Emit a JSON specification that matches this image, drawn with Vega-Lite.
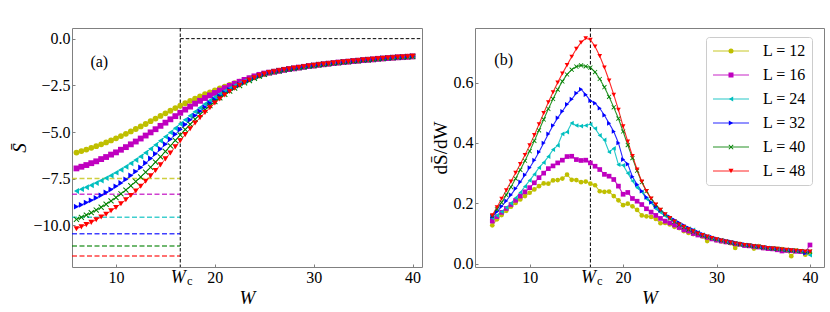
{
"$schema":"https://vega.github.io/schema/vega-lite/v6.json",
"autosize":{"type":"none"},
"padding":{"left":72,"top":28,"right":758,"bottom":284},
"background":"white",
"config":{
 "font":"Liberation Serif",
 "view":{"stroke":"#808080","strokeWidth":1},
 "axis":{"domain":false,"grid":false,"tickColor":"#808080","tickSize":-3,"labelFont":"Liberation Serif","labelFontSize":16,"labelColor":"#000","titleFont":"Liberation Serif","titleFontSize":19,"titleFontWeight":"normal","titleColor":"#000","labelPadding":5,"titlePadding":3},
 "legend":{"labelFont":"Liberation Serif","labelColor":"#000"},
 "text":{"font":"Liberation Serif","color":"#000"}
},
"datasets":{
"S":[
{"W":6,"12":-6.10,"16":-6.95,"24":-8.16,"32":-9.00,"40":-9.68,"48":-10.18},
{"W":6.5,"12":-6.02,"16":-6.86,"24":-8.06,"32":-8.90,"40":-9.57,"48":-10.08},
{"W":7,"12":-5.94,"16":-6.77,"24":-7.96,"32":-8.78,"40":-9.45,"48":-9.96},
{"W":7.5,"12":-5.85,"16":-6.67,"24":-7.85,"32":-8.66,"40":-9.32,"48":-9.84},
{"W":8,"12":-5.76,"16":-6.57,"24":-7.73,"32":-8.53,"40":-9.18,"48":-9.70},
{"W":8.5,"12":-5.66,"16":-6.45,"24":-7.60,"32":-8.39,"40":-9.03,"48":-9.55},
{"W":9,"12":-5.56,"16":-6.34,"24":-7.47,"32":-8.24,"40":-8.87,"48":-9.40},
{"W":9.5,"12":-5.45,"16":-6.21,"24":-7.33,"32":-8.08,"40":-8.69,"48":-9.22},
{"W":10,"12":-5.34,"16":-6.09,"24":-7.18,"32":-7.91,"40":-8.51,"48":-9.04},
{"W":10.5,"12":-5.22,"16":-5.95,"24":-7.02,"32":-7.73,"40":-8.31,"48":-8.84},
{"W":11,"12":-5.10,"16":-5.81,"24":-6.86,"32":-7.54,"40":-8.11,"48":-8.63},
{"W":11.5,"12":-4.97,"16":-5.66,"24":-6.68,"32":-7.33,"40":-7.88,"48":-8.40},
{"W":12,"12":-4.84,"16":-5.51,"24":-6.50,"32":-7.12,"40":-7.65,"48":-8.16},
{"W":12.5,"12":-4.70,"16":-5.35,"24":-6.31,"32":-6.90,"40":-7.41,"48":-7.90},
{"W":13,"12":-4.57,"16":-5.19,"24":-6.11,"32":-6.66,"40":-7.15,"48":-7.64},
{"W":13.5,"12":-4.42,"16":-5.02,"24":-5.90,"32":-6.42,"40":-6.89,"48":-7.35},
{"W":14,"12":-4.28,"16":-4.85,"24":-5.69,"32":-6.17,"40":-6.61,"48":-7.06},
{"W":14.5,"12":-4.14,"16":-4.67,"24":-5.47,"32":-5.91,"40":-6.33,"48":-6.76},
{"W":15,"12":-4.00,"16":-4.50,"24":-5.25,"32":-5.65,"40":-6.04,"48":-6.44},
{"W":15.5,"12":-3.86,"16":-4.32,"24":-5.02,"32":-5.39,"40":-5.74,"48":-6.12},
{"W":16,"12":-3.72,"16":-4.15,"24":-4.80,"32":-5.12,"40":-5.45,"48":-5.79},
{"W":16.5,"12":-3.59,"16":-3.97,"24":-4.57,"32":-4.86,"40":-5.16,"48":-5.47},
{"W":17,"12":-3.46,"16":-3.80,"24":-4.35,"32":-4.60,"40":-4.87,"48":-5.14},
{"W":17.5,"12":-3.33,"16":-3.64,"24":-4.13,"32":-4.35,"40":-4.59,"48":-4.83},
{"W":18,"12":-3.21,"16":-3.48,"24":-3.91,"32":-4.12,"40":-4.32,"48":-4.52},
{"W":18.5,"12":-3.10,"16":-3.33,"24":-3.70,"32":-3.89,"40":-4.06,"48":-4.23},
{"W":19,"12":-2.98,"16":-3.18,"24":-3.50,"32":-3.67,"40":-3.82,"48":-3.96},
{"W":19.5,"12":-2.88,"16":-3.04,"24":-3.31,"32":-3.46,"40":-3.59,"48":-3.70},
{"W":20,"12":-2.77,"16":-2.91,"24":-3.13,"32":-3.27,"40":-3.37,"48":-3.45},
{"W":20.5,"12":-2.67,"16":-2.78,"24":-2.97,"32":-3.08,"40":-3.17,"48":-3.23},
{"W":21,"12":-2.57,"16":-2.65,"24":-2.81,"32":-2.91,"40":-2.98,"48":-3.02},
{"W":21.5,"12":-2.48,"16":-2.53,"24":-2.66,"32":-2.75,"40":-2.81,"48":-2.83},
{"W":22,"12":-2.39,"16":-2.42,"24":-2.52,"32":-2.60,"40":-2.65,"48":-2.65},
{"W":22.5,"12":-2.30,"16":-2.31,"24":-2.40,"32":-2.47,"40":-2.51,"48":-2.50},
{"W":23,"12":-2.21,"16":-2.21,"24":-2.28,"32":-2.34,"40":-2.37,"48":-2.35},
{"W":23.5,"12":-2.13,"16":-2.12,"24":-2.17,"32":-2.22,"40":-2.25,"48":-2.22},
{"W":24,"12":-2.05,"16":-2.02,"24":-2.07,"32":-2.10,"40":-2.12,"48":-2.10},
{"W":24.5,"12":-1.98,"16":-1.94,"24":-1.98,"32":-2.00,"40":-2.01,"48":-1.99},
{"W":25,"12":-1.89,"16":-1.87,"24":-1.89,"32":-1.90,"40":-1.91,"48":-1.90},
{"W":25.5,"12":-1.82,"16":-1.82,"24":-1.82,"32":-1.82,"40":-1.82,"48":-1.82},
{"W":26,"12":-1.77,"16":-1.77,"24":-1.77,"32":-1.77,"40":-1.77,"48":-1.77},
{"W":26.5,"12":-1.72,"16":-1.72,"24":-1.72,"32":-1.72,"40":-1.72,"48":-1.72},
{"W":27,"12":-1.67,"16":-1.67,"24":-1.67,"32":-1.67,"40":-1.67,"48":-1.67},
{"W":27.5,"12":-1.63,"16":-1.63,"24":-1.63,"32":-1.63,"40":-1.63,"48":-1.63},
{"W":28,"12":-1.59,"16":-1.59,"24":-1.59,"32":-1.59,"40":-1.59,"48":-1.59},
{"W":28.5,"12":-1.55,"16":-1.55,"24":-1.55,"32":-1.55,"40":-1.55,"48":-1.55},
{"W":29,"12":-1.51,"16":-1.51,"24":-1.51,"32":-1.51,"40":-1.51,"48":-1.51},
{"W":29.5,"12":-1.47,"16":-1.47,"24":-1.47,"32":-1.47,"40":-1.47,"48":-1.47},
{"W":30,"12":-1.44,"16":-1.44,"24":-1.44,"32":-1.44,"40":-1.44,"48":-1.44},
{"W":30.5,"12":-1.40,"16":-1.40,"24":-1.40,"32":-1.40,"40":-1.40,"48":-1.40},
{"W":31,"12":-1.37,"16":-1.37,"24":-1.37,"32":-1.37,"40":-1.37,"48":-1.37},
{"W":31.5,"12":-1.34,"16":-1.34,"24":-1.34,"32":-1.34,"40":-1.34,"48":-1.34},
{"W":32,"12":-1.31,"16":-1.31,"24":-1.31,"32":-1.31,"40":-1.31,"48":-1.31},
{"W":32.5,"12":-1.28,"16":-1.28,"24":-1.28,"32":-1.28,"40":-1.28,"48":-1.28},
{"W":33,"12":-1.25,"16":-1.25,"24":-1.25,"32":-1.25,"40":-1.25,"48":-1.25},
{"W":33.5,"12":-1.23,"16":-1.23,"24":-1.23,"32":-1.23,"40":-1.23,"48":-1.23},
{"W":34,"12":-1.20,"16":-1.20,"24":-1.20,"32":-1.20,"40":-1.20,"48":-1.20},
{"W":34.5,"12":-1.18,"16":-1.18,"24":-1.18,"32":-1.18,"40":-1.18,"48":-1.18},
{"W":35,"12":-1.15,"16":-1.15,"24":-1.15,"32":-1.15,"40":-1.15,"48":-1.15},
{"W":35.5,"12":-1.13,"16":-1.13,"24":-1.13,"32":-1.13,"40":-1.13,"48":-1.13},
{"W":36,"12":-1.11,"16":-1.11,"24":-1.11,"32":-1.11,"40":-1.11,"48":-1.11},
{"W":36.5,"12":-1.08,"16":-1.08,"24":-1.08,"32":-1.08,"40":-1.08,"48":-1.08},
{"W":37,"12":-1.06,"16":-1.06,"24":-1.06,"32":-1.06,"40":-1.06,"48":-1.06},
{"W":37.5,"12":-1.04,"16":-1.04,"24":-1.04,"32":-1.04,"40":-1.04,"48":-1.04},
{"W":38,"12":-1.02,"16":-1.02,"24":-1.02,"32":-1.02,"40":-1.02,"48":-1.02},
{"W":38.5,"12":-1.00,"16":-1.00,"24":-1.00,"32":-1.00,"40":-1.00,"48":-1.00},
{"W":39,"12":-0.99,"16":-0.99,"24":-0.99,"32":-0.99,"40":-0.99,"48":-0.99},
{"W":39.5,"12":-0.97,"16":-0.97,"24":-0.97,"32":-0.97,"40":-0.97,"48":-0.97},
{"W":40,"12":-0.95,"16":-0.95,"24":-0.95,"32":-0.95,"40":-0.95,"48":-0.95}
],
"D":[
{"W":6,"12":0.127,"16":0.141,"24":0.152,"32":0.155,"40":0.158,"48":0.160},
{"W":6.5,"12":0.147,"16":0.156,"24":0.160,"32":0.172,"40":0.180,"48":0.187},
{"W":7,"12":0.161,"16":0.170,"24":0.172,"32":0.190,"40":0.203,"48":0.215},
{"W":7.5,"12":0.175,"16":0.183,"24":0.186,"32":0.208,"40":0.228,"48":0.243},
{"W":8,"12":0.189,"16":0.196,"24":0.200,"32":0.228,"40":0.254,"48":0.272},
{"W":8.5,"12":0.201,"16":0.210,"24":0.218,"32":0.249,"40":0.282,"48":0.301},
{"W":9,"12":0.213,"16":0.224,"24":0.236,"32":0.271,"40":0.311,"48":0.330},
{"W":9.5,"12":0.224,"16":0.238,"24":0.256,"32":0.294,"40":0.341,"48":0.360},
{"W":10,"12":0.235,"16":0.252,"24":0.276,"32":0.318,"40":0.373,"48":0.392},
{"W":10.5,"12":0.246,"16":0.268,"24":0.296,"32":0.343,"40":0.407,"48":0.426},
{"W":11,"12":0.257,"16":0.285,"24":0.318,"32":0.370,"40":0.442,"48":0.462},
{"W":11.5,"12":0.266,"16":0.300,"24":0.335,"32":0.400,"40":0.478,"48":0.499},
{"W":12,"12":0.265,"16":0.315,"24":0.355,"32":0.430,"40":0.513,"48":0.535},
{"W":12.5,"12":0.276,"16":0.324,"24":0.378,"32":0.458,"40":0.546,"48":0.568},
{"W":13,"12":0.277,"16":0.334,"24":0.392,"32":0.483,"40":0.577,"48":0.600},
{"W":13.5,"12":0.282,"16":0.343,"24":0.430,"32":0.505,"40":0.604,"48":0.630},
{"W":14,"12":0.295,"16":0.355,"24":0.436,"32":0.528,"40":0.627,"48":0.658},
{"W":14.5,"12":0.278,"16":0.356,"24":0.466,"32":0.545,"40":0.643,"48":0.686},
{"W":15,"12":0.277,"16":0.345,"24":0.458,"32":0.565,"40":0.653,"48":0.712},
{"W":15.5,"12":0.270,"16":0.342,"24":0.456,"32":0.578,"40":0.657,"48":0.733},
{"W":16,"12":0.272,"16":0.343,"24":0.458,"32":0.560,"40":0.654,"48":0.747},
{"W":16.5,"12":0.265,"16":0.334,"24":0.462,"32":0.540,"40":0.650,"48":0.742},
{"W":17,"12":0.260,"16":0.323,"24":0.448,"32":0.532,"40":0.635,"48":0.720},
{"W":17.5,"12":0.240,"16":0.312,"24":0.425,"32":0.515,"40":0.612,"48":0.688},
{"W":18,"12":0.238,"16":0.296,"24":0.410,"32":0.492,"40":0.585,"48":0.650},
{"W":18.5,"12":0.239,"16":0.290,"24":0.370,"32":0.465,"40":0.553,"48":0.607},
{"W":19,"12":0.224,"16":0.279,"24":0.382,"32":0.438,"40":0.518,"48":0.560},
{"W":19.5,"12":0.210,"16":0.257,"24":0.328,"32":0.400,"40":0.481,"48":0.510},
{"W":20,"12":0.194,"16":0.230,"24":0.326,"32":0.345,"40":0.438,"48":0.455},
{"W":20.5,"12":0.199,"16":0.236,"24":0.300,"32":0.330,"40":0.393,"48":0.405},
{"W":21,"12":0.190,"16":0.216,"24":0.274,"32":0.288,"40":0.350,"48":0.357},
{"W":21.5,"12":0.178,"16":0.207,"24":0.252,"32":0.262,"40":0.308,"48":0.312},
{"W":22,"12":0.160,"16":0.196,"24":0.238,"32":0.240,"40":0.270,"48":0.272},
{"W":22.5,"12":0.157,"16":0.182,"24":0.215,"32":0.220,"40":0.240,"48":0.241},
{"W":23,"12":0.155,"16":0.171,"24":0.202,"32":0.203,"40":0.215,"48":0.216},
{"W":23.5,"12":0.148,"16":0.160,"24":0.182,"32":0.189,"40":0.195,"48":0.196},
{"W":24,"12":0.134,"16":0.150,"24":0.170,"32":0.176,"40":0.178,"48":0.179},
{"W":24.5,"12":0.135,"16":0.141,"24":0.158,"32":0.165,"40":0.163,"48":0.164},
{"W":25,"12":0.130,"16":0.135,"24":0.150,"32":0.155,"40":0.150,"48":0.151},
{"W":25.5,"12":0.122,"16":0.128,"24":0.140,"32":0.145,"40":0.139,"48":0.140},
{"W":26,"12":0.118,"16":0.120,"24":0.130,"32":0.136,"40":0.129,"48":0.130},
{"W":26.5,"12":0.108,"16":0.112,"24":0.122,"32":0.127,"40":0.121,"48":0.122},
{"W":27,"12":0.102,"16":0.108,"24":0.116,"32":0.119,"40":0.113,"48":0.114},
{"W":27.5,"12":0.098,"16":0.100,"24":0.112,"32":0.112,"40":0.106,"48":0.107},
{"W":28,"12":0.096,"16":0.095,"24":0.104,"32":0.105,"40":0.100,"48":0.100},
{"W":28.5,"12":0.090,"16":0.092,"24":0.096,"32":0.098,"40":0.094,"48":0.095},
{"W":29,"12":0.075,"16":0.087,"24":0.090,"32":0.092,"40":0.089,"48":0.090},
{"W":29.5,"12":0.085,"16":0.082,"24":0.084,"32":0.088,"40":0.085,"48":0.085},
{"W":30,"12":0.078,"16":0.078,"24":0.080,"32":0.083,"40":0.081,"48":0.081},
{"W":30.5,"12":0.074,"16":0.075,"24":0.078,"32":0.079,"40":0.077,"48":0.077},
{"W":31,"12":0.072,"16":0.072,"24":0.074,"32":0.076,"40":0.073,"48":0.073},
{"W":31.5,"12":0.068,"16":0.070,"24":0.071,"32":0.073,"40":0.070,"48":0.070},
{"W":32,"12":0.052,"16":0.066,"24":0.068,"32":0.070,"40":0.067,"48":0.067},
{"W":32.5,"12":0.066,"16":0.064,"24":0.064,"32":0.066,"40":0.064,"48":0.064},
{"W":33,"12":0.062,"16":0.060,"24":0.062,"32":0.064,"40":0.062,"48":0.062},
{"W":33.5,"12":0.060,"16":0.059,"24":0.061,"32":0.062,"40":0.060,"48":0.060},
{"W":34,"12":0.050,"16":0.057,"24":0.058,"32":0.059,"40":0.058,"48":0.058},
{"W":34.5,"12":0.058,"16":0.055,"24":0.056,"32":0.057,"40":0.056,"48":0.056},
{"W":35,"12":0.052,"16":0.052,"24":0.053,"32":0.055,"40":0.054,"48":0.054},
{"W":35.5,"12":0.050,"16":0.050,"24":0.052,"32":0.053,"40":0.052,"48":0.052},
{"W":36,"12":0.051,"16":0.049,"24":0.050,"32":0.051,"40":0.050,"48":0.050},
{"W":36.5,"12":0.049,"16":0.046,"24":0.048,"32":0.050,"40":0.049,"48":0.049},
{"W":37,"12":0.048,"16":0.042,"24":0.047,"32":0.048,"40":0.047,"48":0.047},
{"W":37.5,"12":0.044,"16":0.044,"24":0.045,"32":0.046,"40":0.046,"48":0.046},
{"W":38,"12":0.025,"16":0.043,"24":0.044,"32":0.045,"40":0.044,"48":0.044},
{"W":38.5,"12":0.043,"16":0.041,"24":0.042,"32":0.043,"40":0.043,"48":0.043},
{"W":39,"12":0.040,"16":0.040,"24":0.040,"32":0.042,"40":0.042,"48":0.042},
{"W":39.5,"12":0.030,"16":0.038,"24":0.036,"32":0.035,"40":0.041,"48":0.040},
{"W":40,"12":0.035,"16":0.062,"24":0.028,"32":0.040,"40":0.040,"48":0.040}
]
},
"hconcat":[
{
 "width":350,"height":239,
 "layer":[
  {
   "data":{"values":[{"key":"12","y":-7.49,"x0":5.55,"x1":16.5},{"key":"16","y":-8.34,"x0":5.55,"x1":16.5},{"key":"24","y":-9.57,"x0":5.55,"x1":16.5},{"key":"32","y":-10.45,"x0":5.55,"x1":16.5},{"key":"40","y":-11.10,"x0":5.55,"x1":16.5},{"key":"48","y":-11.64,"x0":5.55,"x1":16.5}]},
   "mark":{"type":"rule","strokeDash":[5,2.5],"strokeWidth":1.5,"opacity":0.75},
   "encoding":{
    "x":{"field":"x0","type":"quantitative","title":"W","scale":{"domain":[5.55,40.95],"nice":false,"zero":false},"axis":{"values":[10,20,30,40],"titleFontStyle":"italic"}},
    "x2":{"field":"x1"},
    "y":{"field":"y","type":"quantitative","title":"S̄","scale":{"domain":[-12.23,0.57],"nice":false,"zero":false},"axis":{"values":[0,-2.5,-5,-7.5,-10],"format":".1f","titleFontStyle":"italic"}},
    "stroke":{"field":"key","type":"nominal","scale":{"domain":["12","16","24","32","40","48"],"range":["#bfbf00","#bf00bf","#00bfbf","#0000ff","#008000","#ff0000"]},"legend":null}
   }
  },
  {
   "data":{"values":[{"Wc":16.5}]},
   "mark":{"type":"rule","color":"#000","strokeDash":[3.5,2],"strokeWidth":1},
   "encoding":{"x":{"field":"Wc","type":"quantitative","title":"W"}}
  },
  {
   "data":{"values":[{"x0":16.5,"x1":40.95,"y":0}]},
   "mark":{"type":"rule","color":"#000","strokeDash":[3.5,2],"strokeWidth":1},
   "encoding":{"x":{"field":"x0","type":"quantitative","title":"W"},"x2":{"field":"x1"},"y":{"field":"y","type":"quantitative","title":"S̄"}}
  },
  {
   "data":{"name":"S"},
   "transform":[{"fold":["12","16","24","32","40","48"],"as":["key","S"]}],
   "mark":{"type":"line","strokeWidth":1,"opacity":0.85},
   "encoding":{
    "x":{"field":"W","type":"quantitative","title":"W"},
    "y":{"field":"S","type":"quantitative","title":"S̄"},
    "stroke":{"field":"key","type":"nominal","legend":null}
   }
  },
  {
   "data":{"name":"S"},
   "transform":[{"fold":["12","16","24","32","40","48"],"as":["key","S"]}],
   "mark":{"type":"point","filled":true,"size":34,"strokeWidth":0,"opacity":1},
   "encoding":{
    "x":{"field":"W","type":"quantitative","title":"W"},
    "y":{"field":"S","type":"quantitative","title":"S̄"},
    "fill":{"field":"key","type":"nominal","scale":{"range":["#bfbf00","#bf00bf","#00bfbf","#0000ff","#008000","#ff0000"]},"legend":null},
    "shape":{"field":"key","type":"nominal","scale":{"range":["circle","square","triangle-left","triangle-right","M-1,-0.75L-0.25,0L-1,0.75L-0.75,1L0,0.25L0.75,1L1,0.75L0.25,0L1,-0.75L0.75,-1L0,-0.25L-0.75,-1Z","triangle-down"]},"legend":null}
   }
  },
  {
   "data":{"values":[{"x":8.31,"y":-1.23,"t":"(a)"}]},
   "mark":{"type":"text","fontSize":16,"align":"center","baseline":"middle"},
   "encoding":{"x":{"field":"x","type":"quantitative","title":"W"},"y":{"field":"y","type":"quantitative","title":"S̄"},"text":{"field":"t"}}
  },
  {
   "data":{"values":[{"x":16.5,"y":-12.23,"t":"W"}]},
   "mark":{"type":"text","fontSize":18,"fontStyle":"italic","align":"center","baseline":"alphabetic","dx":-2,"dy":16},
   "encoding":{"x":{"field":"x","type":"quantitative","title":"W"},"y":{"field":"y","type":"quantitative","title":"S̄"},"text":{"field":"t"}}
  },
  {
   "data":{"values":[{"x":16.5,"y":-12.23,"t":"c"}]},
   "mark":{"type":"text","fontSize":12.5,"align":"center","baseline":"alphabetic","dx":9.5,"dy":17.5},
   "encoding":{"x":{"field":"x","type":"quantitative","title":"W"},"y":{"field":"y","type":"quantitative","title":"S̄"},"text":{"field":"t"}}
  }
 ]
},
{
 "width":349,"height":239,
 "layer":[
  {
   "data":{"values":[{"Wc":16.5}]},
   "mark":{"type":"rule","color":"#000","strokeDash":[3.5,2],"strokeWidth":1},
   "encoding":{"x":{"field":"Wc","type":"quantitative","title":"W","scale":{"domain":[4.15,41.5],"nice":false,"zero":false},"axis":{"values":[10,20,30,40],"titleFontStyle":"italic"}}}
  },
  {
   "data":{"name":"D"},
   "transform":[{"fold":["12","16","24","32","40","48"],"as":["key","D"]}],
   "mark":{"type":"line","strokeWidth":1.1,"opacity":0.85},
   "encoding":{
    "x":{"field":"W","type":"quantitative","title":"W"},
    "y":{"field":"D","type":"quantitative","title":"dS̄/dW","scale":{"domain":[-0.011,0.781],"nice":false,"zero":false},"axis":{"values":[0,0.2,0.4,0.6],"format":".1f"}},
    "stroke":{"field":"key","type":"nominal","scale":{"domain":["12","16","24","32","40","48"],"range":["#bfbf00","#bf00bf","#00bfbf","#0000ff","#008000","#ff0000"]},
     "legend":{"orient":"none","legendX":231,"legendY":9,"title":null,"symbolType":"stroke","symbolSize":1296,"symbolStrokeWidth":1.2,"clipHeight":16,"labelExpr":"'L = ' + datum.label","labelFontSize":16,"labelOffset":13,"padding":6,"rowPadding":8,"strokeColor":"#cccccc","cornerRadius":3}}
   }
  },
  {
   "data":{"name":"D"},
   "transform":[{"fold":["12","16","24","32","40","48"],"as":["key","D"]}],
   "mark":{"type":"point","filled":true,"size":22,"strokeWidth":0,"opacity":1},
   "encoding":{
    "x":{"field":"W","type":"quantitative","title":"W"},
    "y":{"field":"D","type":"quantitative","title":"dS̄/dW"},
    "fill":{"field":"key","type":"nominal","scale":{"range":["#bfbf00","#bf00bf","#00bfbf","#0000ff","#008000","#ff0000"]},
     "legend":{"orient":"none","legendX":248,"legendY":15,"title":null,"symbolSize":25,"symbolStrokeWidth":0,"clipHeight":16,"labelExpr":"''","labelFontSize":16,"padding":0,"rowPadding":8}},
    "shape":{"field":"key","type":"nominal","scale":{"range":["circle","square","triangle-left","triangle-right","M-1,-0.75L-0.25,0L-1,0.75L-0.75,1L0,0.25L0.75,1L1,0.75L0.25,0L1,-0.75L0.75,-1L0,-0.25L-0.75,-1Z","triangle-down"]},
     "legend":{"orient":"none","legendX":248,"legendY":15,"title":null,"symbolSize":25,"symbolStrokeWidth":0,"clipHeight":16,"labelExpr":"''","labelFontSize":16,"padding":0,"rowPadding":8}}
   }
  },
  {
   "data":{"values":[{"x":7.22,"y":0.676,"t":"(b)"}]},
   "mark":{"type":"text","fontSize":16,"align":"center","baseline":"middle"},
   "encoding":{"x":{"field":"x","type":"quantitative","title":"W"},"y":{"field":"y","type":"quantitative","title":"dS̄/dW"},"text":{"field":"t"}}
  },
  {
   "data":{"values":[{"x":16.5,"y":-0.011,"t":"W"}]},
   "mark":{"type":"text","fontSize":18,"fontStyle":"italic","align":"center","baseline":"alphabetic","dx":-2,"dy":16},
   "encoding":{"x":{"field":"x","type":"quantitative","title":"W"},"y":{"field":"y","type":"quantitative","title":"dS̄/dW"},"text":{"field":"t"}}
  },
  {
   "data":{"values":[{"x":16.5,"y":-0.011,"t":"c"}]},
   "mark":{"type":"text","fontSize":12.5,"align":"center","baseline":"alphabetic","dx":9.5,"dy":17.5},
   "encoding":{"x":{"field":"x","type":"quantitative","title":"W"},"y":{"field":"y","type":"quantitative","title":"dS̄/dW"},"text":{"field":"t"}}
  }
 ]
}
],
"spacing":53,
"bounds":"flush",
"resolve":{"scale":{"stroke":"independent","fill":"independent","shape":"independent"}}
}
